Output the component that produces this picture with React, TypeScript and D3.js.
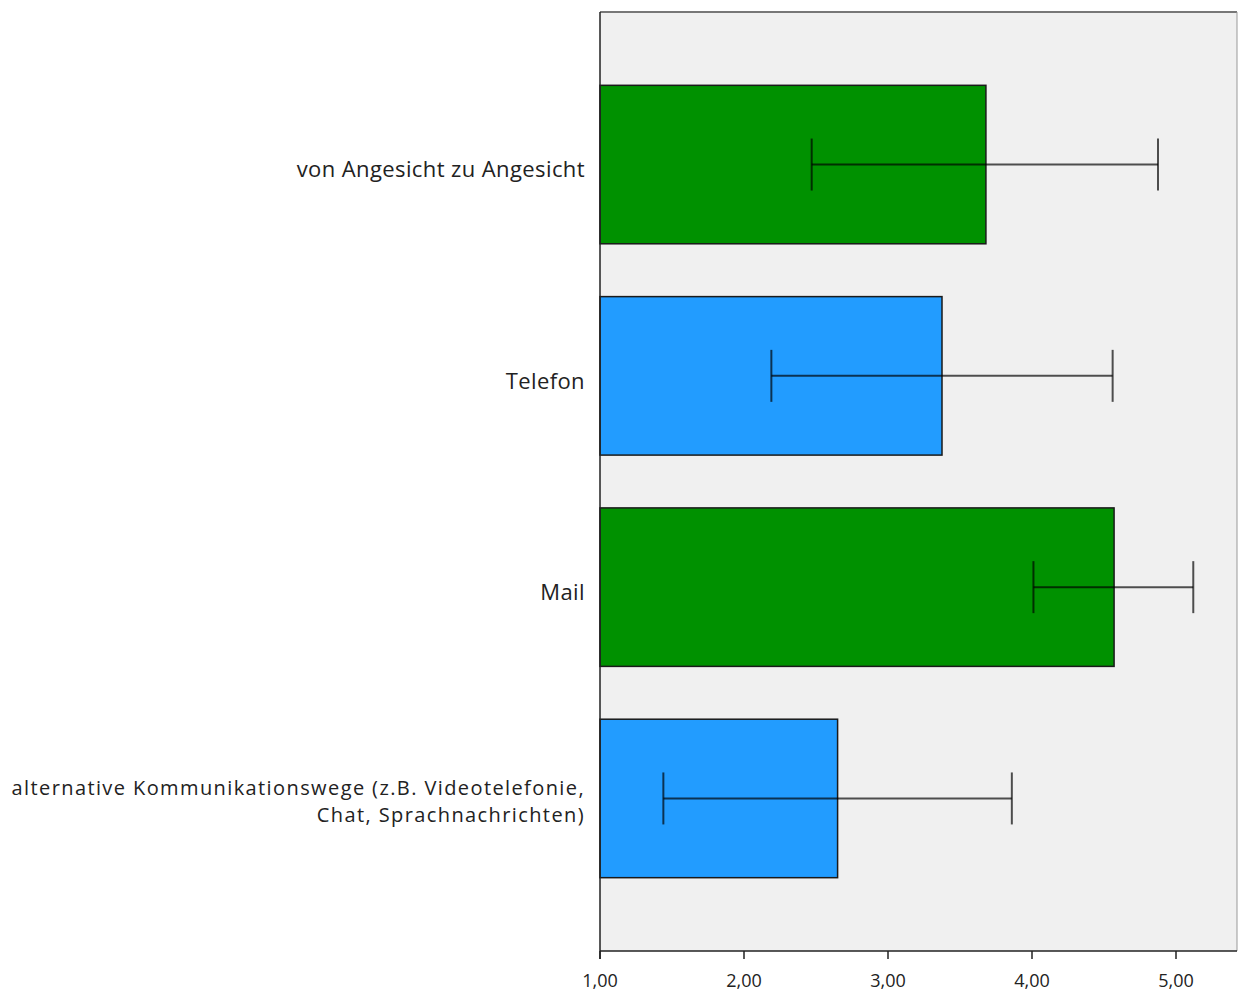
import React from "react";
import * as d3 from "d3";

const categories = [
  "von Angesicht zu Angesicht",
  "Telefon",
  "Mail",
  "alternative Kommunikationswege (z.B. Videotelefonie,|Chat, Sprachnachrichten)",
];
const means = [3.68, 3.375, 4.57, 2.65];
const lower = [2.47, 2.19, 4.01, 1.44];
const upper = [4.875, 4.56, 5.12, 3.86];
const barColors = ["#009100", "#229cff", "#009100", "#229cff"];
const ticks = [1, 2, 3, 4, 5];
const tickLabels = ["1,00", "2,00", "3,00", "4,00", "5,00"];

export default function App() {
  const W = 1238;
  const H = 994;
  const left = 600;
  const right = 1237;
  const top = 12;
  const bottom = 951;
  const x = d3.scaleLinear().domain([1, 5]).range([600, 1176]);
  const y = d3
    .scaleBand<number>()
    .domain(categories.map((_, i) => i))
    .range([top, bottom])
    .paddingInner(0.25)
    .paddingOuter(0.347);
  const bw = y.bandwidth();
  const font = "'Open Sans', 'Noto Sans', sans-serif";
  const errColor = "rgba(0,0,0,0.68)";

  return (
    <svg
      width={W}
      height={H}
      style={{ position: "absolute", left: 0, top: 0 }}
      fontFamily={font}
    >
      <rect x={0} y={0} width={W} height={H} fill="#fff" />
      <rect x={left} y={top} width={right - left} height={bottom - top} fill="#f0f0f0" />
      <line x1={left} y1={top} x2={right} y2={top} stroke="#777" strokeWidth={2} />
      <line x1={right} y1={top} x2={right} y2={bottom} stroke="#999" strokeWidth={1} />
      {categories.map((c, i) => {
        const y0 = y(i)!;
        const cy = y0 + bw / 2;
        const lines = c.split("|");
        return (
          <g key={i}>
            <rect
              x={x(1)}
              y={y0}
              width={x(means[i]) - x(1)}
              height={bw}
              fill={barColors[i]}
              stroke="#1a1a1a"
              strokeWidth={1.5}
            />
            <line x1={x(lower[i])} x2={x(upper[i])} y1={cy} y2={cy} stroke={errColor} strokeWidth={2} />
            <line x1={x(lower[i])} x2={x(lower[i])} y1={cy - 26} y2={cy + 26} stroke={errColor} strokeWidth={2} />
            <line x1={x(upper[i])} x2={x(upper[i])} y1={cy - 26} y2={cy + 26} stroke={errColor} strokeWidth={2} />
            {lines.length === 1 ? (
              <text
                x={585}
                y={cy + 7}
                textAnchor="end"
                dominantBaseline="middle"
                fontSize={22}
                letterSpacing={0.4}
                fill="#222"
              >
                {lines[0]}
              </text>
            ) : (
              lines.map((l, k) => (
                <text
                  key={k}
                  x={585}
                  y={cy - 9 + k * 27}
                  textAnchor="end"
                  dominantBaseline="middle"
                  fontSize={20}
                  letterSpacing={1.4}
                  fill="#222"
                >
                  {l}
                </text>
              ))
            )}
          </g>
        );
      })}
      <line x1={left} y1={top} x2={left} y2={bottom + 8} stroke="#222" strokeWidth={1.5} />
      <line x1={left} y1={bottom} x2={right} y2={bottom} stroke="#222" strokeWidth={1.5} />
      {ticks.map((t, i) => (
        <g key={t}>
          <line x1={x(t)} x2={x(t)} y1={bottom} y2={bottom + 8} stroke="#222" strokeWidth={1.5} />
          <text x={x(t)} y={982} textAnchor="middle" dominantBaseline="middle" fontSize={18} fill="#222">
            {tickLabels[i]}
          </text>
        </g>
      ))}
    </svg>
  );
}
